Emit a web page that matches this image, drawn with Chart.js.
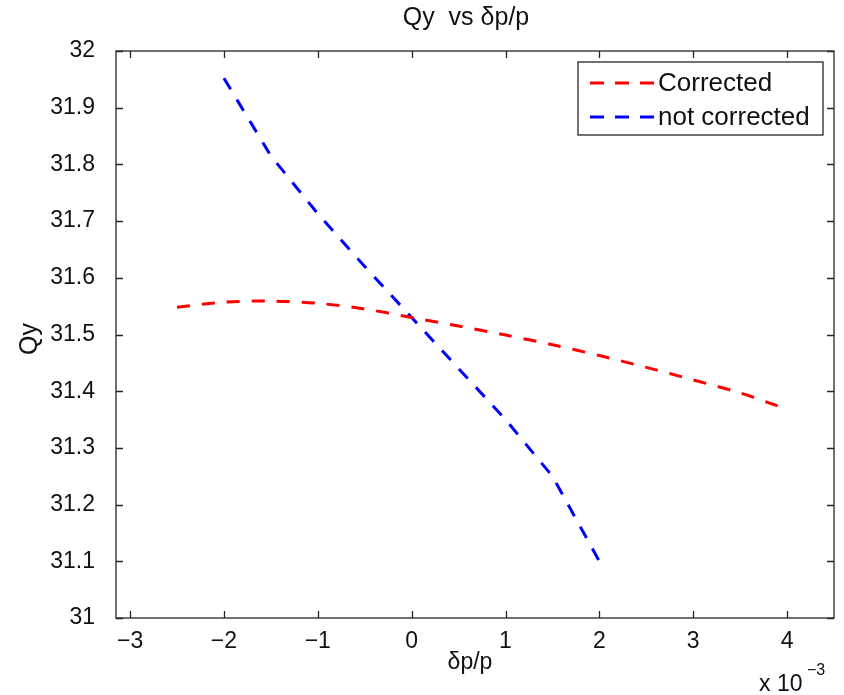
<!DOCTYPE html>
<html>
<head>
<meta charset="utf-8">
<script src="https://cdn.jsdelivr.net/npm/chart.js"></script>
<style>
  html, body { margin: 0; background: #fff; }
  #wrap { width: 844px; height: 695px; }
</style>
</head>
<body>
<div id="wrap"><canvas id="myChart"></canvas></div>
<script>
// values (x in units of 1e-3)
const corrX  = [-2.5, -2, -1.5, -1, -0.5, 0, 0.5, 1, 1.5, 2, 2.5, 3, 3.5, 3.9];
const corrQy = [31.548, 31.557, 31.559, 31.555, 31.545, 31.530, 31.515, 31.499, 31.482, 31.463, 31.442, 31.420, 31.397, 31.374];
const notX   = [-2, -1.5, -1, -0.5, 0, 0.5, 1, 1.5, 2];
const notQy  = [31.952, 31.815, 31.713, 31.620, 31.530, 31.440, 31.350, 31.250, 31.100];
const xTicks = [-3, -2, -1, 0, 1, 2, 3, 4];
const yTicks = [31, 31.1, 31.2, 31.3, 31.4, 31.5, 31.6, 31.7, 31.8, 31.9, 32];

const FONT = '"Liberation Sans", Arial, Helvetica, sans-serif';
const tickSize = 23;

const toPts = (xs, ys) => xs.map((v, i) => ({x: v, y: ys[i]}));

const decor = {
  id: 'decor',
  afterDraw(chart) {
    const {ctx, chartArea: a, scales: {x, y}} = chart;
    ctx.save();
    // box + inward ticks
    ctx.strokeStyle = '#262626';
    ctx.lineWidth = 1.3;
    ctx.strokeRect(a.left, a.top, a.right - a.left, a.bottom - a.top);
    ctx.beginPath();
    xTicks.forEach(v => {
      const px = Math.round(x.getPixelForValue(v)) + 0.5;
      ctx.moveTo(px, a.bottom); ctx.lineTo(px, a.bottom - 7);
      ctx.moveTo(px, a.top); ctx.lineTo(px, a.top + 7);
    });
    yTicks.forEach(v => {
      const py = Math.round(y.getPixelForValue(v)) + 0.5;
      ctx.moveTo(a.left, py); ctx.lineTo(a.left + 7, py);
      ctx.moveTo(a.right, py); ctx.lineTo(a.right - 7, py);
    });
    ctx.stroke();

    // legend
    const lx = a.right - 256, ly = a.top + 11, lw = 245, lh = 73;
    ctx.fillStyle = '#fff';
    ctx.fillRect(lx, ly, lw, lh);
    ctx.strokeRect(lx, ly, lw, lh);
    ctx.font = '26px ' + FONT;
    ctx.textBaseline = 'middle';
    ctx.textAlign = 'left';
    chart.data.datasets.forEach((ds, i) => {
      const yy = ly + 21 + i * 34;
      ctx.strokeStyle = ds.borderColor;
      ctx.lineWidth = 3;
      ctx.setLineDash([14, 11]);
      ctx.beginPath();
      ctx.moveTo(lx + 12, yy); ctx.lineTo(lx + 78, yy);
      ctx.stroke();
      ctx.setLineDash([]);
      ctx.fillStyle = '#111';
      ctx.fillText(ds.label, lx + 80, yy + 1);
    });

    // titles
    ctx.fillStyle = '#111';
    ctx.textAlign = 'center';
    ctx.font = '25px ' + FONT;
    ctx.fillText('Qy  vs \u03b4p/p', 466, 18);
    ctx.font = '23px ' + FONT;
    ctx.fillText('\u03b4p/p', 470, 663);
    ctx.save();
    ctx.translate(30, 339);
    ctx.rotate(-Math.PI / 2);
    ctx.font = '25px ' + FONT;
    ctx.fillText('Qy', 0, 0);
    ctx.restore();
    ctx.textAlign = 'left';
    ctx.font = '23px ' + FONT;
    ctx.fillText('x 10', 759, 685);
    ctx.font = '16px ' + FONT;
    ctx.fillText('\u22123', 807, 671);
    ctx.restore();
  }
};

new Chart(document.getElementById('myChart'), {
  type: 'line',
  data: {
    datasets: [
      {
        label: 'Corrected',
        data: toPts(corrX, corrQy),
        borderColor: '#ff0000',
        borderWidth: 3,
        borderDash: [13, 12],
        pointRadius: 0,
        tension: 0.3,
        fill: false
      },
      {
        label: 'not corrected',
        data: toPts(notX, notQy),
        borderColor: '#0000ff',
        borderWidth: 3,
        borderDash: [13, 12],
        pointRadius: 0,
        tension: 0,
        fill: false
      }
    ]
  },
  options: {
    responsive: true,
    maintainAspectRatio: false,
    animation: false,
    layout: { padding: { left: 0, right: 10, top: 51, bottom: 0 } },
    plugins: { legend: { display: false }, title: { display: false }, tooltip: { enabled: false } },
    scales: {
      x: {
        type: 'linear',
        min: -3.15,
        max: 4.5,
        afterBuildTicks: s => { s.ticks = xTicks.map(v => ({value: v})); },
        afterFit: s => { s.height = 77; },
        grid: { display: false },
        border: { display: false },
        ticks: {
          padding: 2,
          color: '#111',
          font: { family: FONT, size: tickSize },
          callback: v => (v < 0 ? '\u2212' + Math.abs(v) : '' + v)
        }
      },
      y: {
        type: 'linear',
        min: 31,
        max: 32,
        afterBuildTicks: s => { s.ticks = yTicks.map(v => ({value: v})); },
        afterFit: s => { s.width = 116; },
        grid: { display: false },
        border: { display: false },
        ticks: {
          padding: 13,
          color: '#111',
          font: { family: FONT, size: tickSize },
          callback: v => (Number.isInteger(v) ? '' + v : v.toFixed(1))
        }
      }
    }
  },
  plugins: [decor]
});
</script>
</body>
</html>
